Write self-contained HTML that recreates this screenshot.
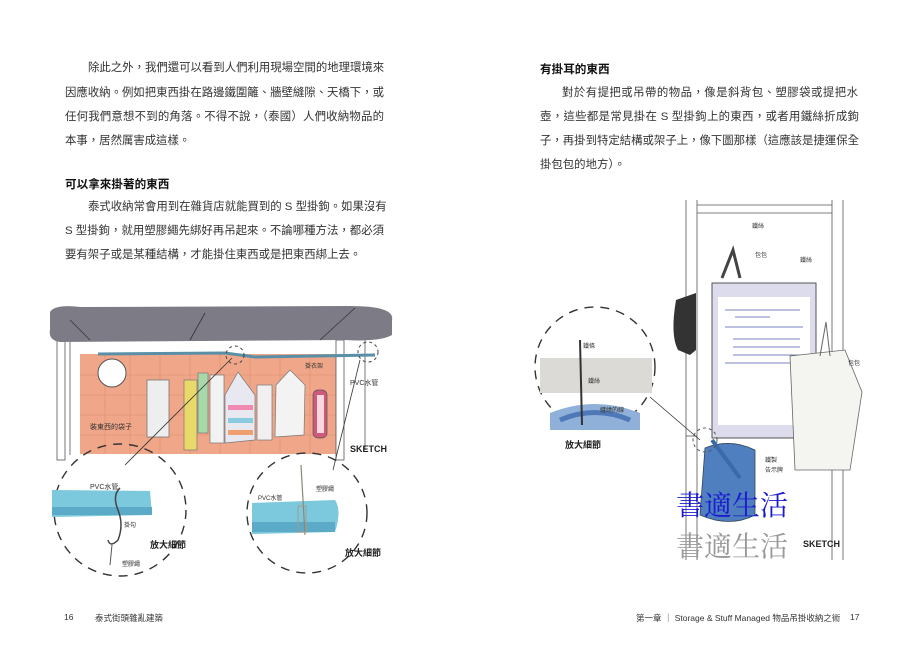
<!DOCTYPE html>
<html><head><meta charset="utf-8"><style>
body{margin:0;width:923px;height:651px;background:#fff;position:relative;overflow:hidden;font-family:"Liberation Sans","Noto Sans CJK TC",sans-serif;color:#333}
.l{position:absolute;font-size:11.4px;line-height:14px;white-space:nowrap;text-align:justify;text-align-last:justify}
.h{position:absolute;font-size:11.6px;font-weight:bold;color:#111;white-space:nowrap}
.f{position:absolute;font-size:8.5px;color:#333;white-space:nowrap}
svg{position:absolute;left:0;top:0}
</style></head><body>
<div class="l" style="left:88px;top:61px;width:296px">除此之外，我們還可以看到人們利用現場空間的地理環境來</div>
<div class="l" style="left:65px;top:86px;width:319px">因應收納。例如把東西掛在路邊鐵圍籬、牆壁縫隙、天橋下，或</div>
<div class="l" style="left:65px;top:110px;width:319px">任何我們意想不到的角落。不得不說，（泰國）人們收納物品的</div>
<div class="l" style="left:65px;top:134px;width:120px">本事，居然厲害成這樣。</div>
<div class="h" style="left:65px;top:176px">可以拿來掛著的東西</div>
<div class="l" style="left:88px;top:200px;width:296px">泰式收納常會用到在雜貨店就能買到的 S 型掛鉤。如果沒有</div>
<div class="l" style="left:65px;top:224px;width:319px">S 型掛鉤，就用塑膠繩先綁好再吊起來。不論哪種方法，都必須</div>
<div class="l" style="left:65px;top:248px;width:294px">要有架子或是某種結構，才能掛住東西或是把東西綁上去。</div>

<div class="h" style="left:540px;top:61px">有掛耳的東西</div>
<div class="l" style="left:562px;top:86px;width:296px">對於有提把或吊帶的物品，像是斜背包、塑膠袋或提把水</div>
<div class="l" style="left:540px;top:110px;width:319px">壺，這些都是常見掛在 S 型掛鉤上的東西，或者用鐵絲折成鉤</div>
<div class="l" style="left:540px;top:134px;width:319px">子，再掛到特定結構或架子上，像下圖那樣（這應該是捷運保全</div>
<div class="l" style="left:540px;top:158px;width:80px">掛包包的地方）。</div>

<div class="f" style="left:64px;top:612px">16</div>
<div class="f" style="left:95px;top:612px">泰式街頭雜亂建築</div>
<div class="f" style="left:636px;top:612px">第一章 ｜ Storage &amp; Stuff Managed 物品吊掛收納之術</div>
<div class="f" style="left:850px;top:612px">17</div>

<svg width="923" height="651" viewBox="0 0 923 651">
<!-- left illustration -->
<rect x="80" y="354" width="256" height="100" fill="#f0a688"/>
<g stroke="#e08c70" stroke-width="0.6">
<line x1="80" y1="375" x2="336" y2="375"/><line x1="80" y1="395" x2="336" y2="395"/><line x1="80" y1="415" x2="336" y2="415"/><line x1="80" y1="435" x2="336" y2="435"/>
<line x1="105" y1="354" x2="105" y2="454"/><line x1="130" y1="354" x2="130" y2="454"/><line x1="160" y1="354" x2="160" y2="454"/><line x1="190" y1="354" x2="190" y2="454"/><line x1="220" y1="354" x2="220" y2="454"/><line x1="250" y1="354" x2="250" y2="454"/><line x1="280" y1="354" x2="280" y2="454"/><line x1="310" y1="354" x2="310" y2="454"/>
</g>
<rect x="57" y="340" width="8" height="120" fill="#fff" stroke="#555" stroke-width="0.8"/>
<rect x="336" y="340" width="8" height="120" fill="#fff" stroke="#555" stroke-width="0.8"/>
<line x1="70" y1="340" x2="70" y2="455" stroke="#555" stroke-width="0.8"/>
<line x1="365" y1="340" x2="365" y2="450" stroke="#555" stroke-width="0.8"/>
<path d="M50 312 Q55 304 80 307 L350 306 Q395 306 392 320 L392 335 Q380 342 345 340 L60 342 Q48 340 50 330 Z" fill="#7d7c86"/>
<line x1="70" y1="320" x2="90" y2="340" stroke="#333" stroke-width="0.8"/>
<line x1="205" y1="313" x2="190" y2="340" stroke="#333" stroke-width="0.8"/>
<line x1="355" y1="308" x2="320" y2="340" stroke="#333" stroke-width="0.8"/>
<path d="M98 354 L225 353 L255 357 L375 355" stroke="#5a8fa8" stroke-width="3" fill="none"/>
<circle cx="112" cy="373" r="14" fill="#fff" stroke="#555"/>
<rect x="147" y="380" width="22" height="57" fill="#eee" stroke="#777" stroke-width="0.8"/>
<rect x="184" y="380" width="13" height="70" fill="#e8d96a" stroke="#777" stroke-width="0.7"/>
<rect x="198" y="373" width="10" height="60" fill="#a8d8a8" stroke="#777" stroke-width="0.7"/>
<rect x="210" y="375" width="14" height="68" fill="#f2f2f2" stroke="#777" stroke-width="0.7"/>
<path d="M238 372 L255 395 L255 440 L225 443 L225 395 Z" fill="#e8e8f0" stroke="#777" stroke-width="0.7"/>
<rect x="228" y="405" width="25" height="5" fill="#f08ab0"/><rect x="228" y="418" width="25" height="5" fill="#8acbe0"/><rect x="228" y="430" width="25" height="5" fill="#f0a070"/>
<rect x="257" y="385" width="15" height="55" fill="#f0f0f0" stroke="#777" stroke-width="0.7"/>
<path d="M290 370 L305 385 L304 435 L275 437 L276 385 Z" fill="#f3f3f3" stroke="#777" stroke-width="0.7"/>
<rect x="313" y="390" width="14" height="48" rx="5" fill="#d05878" stroke="#555" stroke-width="0.7"/>
<rect x="317" y="395" width="7" height="38" fill="#f8d8e0"/>
<text x="350" y="452" font-size="9" font-weight="bold" fill="#222">SKETCH</text>
<text x="350" y="385" font-size="7" fill="#333">PVC水管</text>
<text x="90" y="429" font-size="7" fill="#333">裝東西的袋子</text>
<text x="305" y="368" font-size="6" fill="#333">掛衣架</text>
<circle cx="120" cy="510" r="66" fill="none" stroke="#333" stroke-width="1.4" stroke-dasharray="9,7"/>
<circle cx="307" cy="513" r="60" fill="none" stroke="#333" stroke-width="1.4" stroke-dasharray="9,7"/>
<circle cx="235" cy="355" r="9" fill="none" stroke="#444" stroke-dasharray="3,3"/>
<circle cx="368" cy="352" r="10" fill="none" stroke="#444" stroke-dasharray="3,3"/>
<line x1="232" y1="358" x2="125" y2="465" stroke="#333" stroke-width="0.8"/>
<line x1="360" y1="360" x2="333" y2="470" stroke="#333" stroke-width="0.8"/>
<path d="M52 490 L150 491 L152 515 L52 517 Z" fill="#7cc8dc"/>
<rect x="52" y="507" width="100" height="8" fill="#5aaac8"/>
<path d="M120 488 Q112 495 118 510 Q124 525 118 540 Q110 548 108 540" fill="none" stroke="#444" stroke-width="1.5"/>
<line x1="112" y1="545" x2="110" y2="565" stroke="#555"/>
<path d="M252 503 L335 500 Q342 510 335 532 L252 534 Z" fill="#7cc8dc"/>
<rect x="252" y="522" width="83" height="10" fill="#5aaac8"/>
<line x1="301" y1="465" x2="305" y2="535" stroke="#887" stroke-width="1.2"/>
<rect x="298" y="506" width="8" height="26" fill="none" stroke="#a98" stroke-width="1"/>
<text x="90" y="489" font-size="7" fill="#333">PVC水管</text>
<text x="258" y="500" font-size="6" fill="#333">PVC水管</text>
<text x="316" y="491" font-size="6" fill="#333">塑膠繩</text>
<text x="124" y="527" font-size="6" fill="#333">掛勾</text>
<text x="150" y="548" font-size="9" font-weight="bold" fill="#222">放大細節</text>
<text x="122" y="566" font-size="6" fill="#333">塑膠繩</text>
<text x="345" y="556" font-size="9" font-weight="bold" fill="#222">放大細節</text>

<!-- right illustration -->
<g stroke="#555" stroke-width="0.8" fill="none">
<line x1="686" y1="200" x2="686" y2="560"/><line x1="697" y1="200" x2="697" y2="560"/>
<line x1="832" y1="200" x2="832" y2="560"/><line x1="843" y1="200" x2="843" y2="560"/>
<line x1="697" y1="205" x2="832" y2="205"/><line x1="697" y1="213" x2="832" y2="213"/>
<line x1="686" y1="436" x2="697" y2="436"/>
</g>
<path d="M676 300 Q670 335 678 350 L690 355 L696 350 L696 293 Z" fill="#333"/>
<path d="M722 278 L733 250 L740 278" fill="none" stroke="#444" stroke-width="3"/>
<rect x="712" y="283" width="104" height="155" fill="#dcdcec" stroke="#555" stroke-width="1"/>
<rect x="718" y="297" width="92" height="128" fill="#fff"/>
<g stroke="#4a5aa8" stroke-width="0.8">
<line x1="725" y1="310" x2="800" y2="310"/><line x1="735" y1="317" x2="770" y2="317"/><line x1="725" y1="327" x2="803" y2="327"/>
<line x1="733" y1="339" x2="800" y2="339"/><line x1="733" y1="347" x2="800" y2="347"/><line x1="733" y1="355" x2="800" y2="355"/><line x1="725" y1="363" x2="805" y2="363"/>
</g>
<path d="M790 356 L845 350 L862 392 L850 470 L795 470 Z" fill="#f4f4f0" stroke="#666" stroke-width="0.8"/>
<path d="M820 356 L826 322 L830 356" fill="none" stroke="#666"/>
<path d="M705 448 Q730 438 755 450 L755 515 Q730 528 700 515 Z" fill="#4f7fbf" stroke="#345" stroke-width="0.8"/>
<line x1="712" y1="440" x2="740" y2="478" stroke="#3a6aaa" stroke-width="4"/>
<circle cx="595" cy="367" r="60" fill="none" stroke="#333" stroke-width="1.4" stroke-dasharray="9,7"/>
<rect x="540" y="358" width="112" height="35" fill="#dcdad6"/>
<path d="M550 413 Q595 395 640 413 L640 430 L550 430 Z" fill="#8fb0d8"/>
<path d="M560 420 Q595 405 630 420" fill="none" stroke="#4f78b8" stroke-width="5"/>
<line x1="580" y1="340" x2="582" y2="425" stroke="#333" stroke-width="2"/>
<line x1="650" y1="397" x2="700" y2="440" stroke="#333" stroke-width="0.8"/>
<circle cx="705" cy="440" r="12" fill="none" stroke="#555" stroke-dasharray="3,3"/>
<text x="583" y="348" font-size="6" fill="#333">鐵條</text>
<text x="588" y="383" font-size="6" fill="#333">鐵絲</text>
<text x="600" y="412" font-size="6" fill="#333">纏繞的線</text>
<text x="565" y="448" font-size="9" font-weight="bold" fill="#222">放大細節</text>
<text x="752" y="228" font-size="6" fill="#333">鐵絲</text>
<text x="755" y="257" font-size="6" fill="#333">包包</text>
<text x="800" y="262" font-size="6" fill="#333">鐵絲</text>
<text x="848" y="365" font-size="6" fill="#333">包包</text>
<text x="765" y="462" font-size="6" fill="#333">鐵製</text>
<text x="765" y="472" font-size="6" fill="#333">告示牌</text>
<text x="803" y="547" font-size="9" font-weight="bold" fill="#222">SKETCH</text>
<text x="676" y="515" font-size="28" fill="#1a1ad0" font-family="Noto Serif CJK SC, serif">書適生活</text>
<text x="676" y="556" font-size="28" fill="#999" font-family="Noto Serif CJK SC, serif">書適生活</text>
</svg>
</body></html>
